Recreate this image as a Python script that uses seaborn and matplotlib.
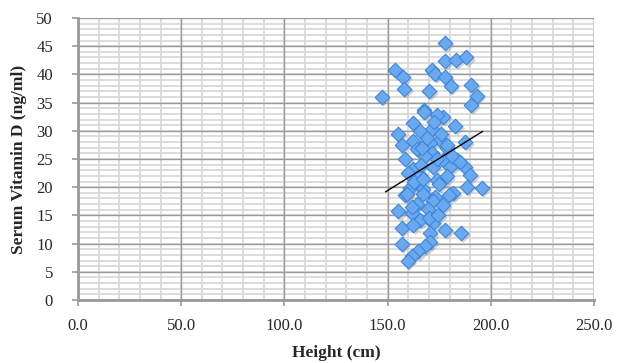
import matplotlib
matplotlib.use("Agg")
import matplotlib.pyplot as plt
import matplotlib.transforms as mtransforms
import numpy as np
import pandas as pd
import seaborn as sns

# heights (cm) and serum vitamin D (ng/ml)
height = [147.1, 153.6, 157.6, 158.0, 177.8, 177.8, 183.1, 188.0, 171.3, 173.0,
          177.8, 180.6, 170.0, 190.4, 193.2, 190.4, 167.8, 167.8, 177.0, 173.8,
          162.5, 182.7, 171.3, 155.2, 165.7, 175.4, 162.5, 187.5, 156.8, 170.5,
          164.1, 171.3, 178.6, 183.5, 177.0, 172.1, 162.5, 180.2, 187.5, 165.7,
          173.8, 178.6, 189.9, 195.6, 188.3, 160.9, 167.3, 181.8, 158.4, 173.0,
          159.2, 167.3, 179.9, 172.1, 177.0, 155.2, 161.7, 169.7, 165.7, 156.8,
          162.5, 172.1, 177.8, 185.6, 170.5, 156.8, 170.5, 168.1, 164.9, 161.7,
          159.7, 168.0, 174.0, 166.0, 176.0, 169.0, 163.0, 181.0, 185.0, 175.0,
          160.0, 166.5, 172.5, 179.0, 164.0, 170.0, 158.5, 174.5, 167.0, 162.0]
vitd = [36.0, 40.7, 39.5, 37.4, 45.6, 42.4, 42.6, 43.0, 40.8, 40.1,
        39.6, 37.9, 37.1, 38.1, 36.2, 34.6, 33.7, 33.4, 32.5, 32.8,
        31.3, 30.9, 30.3, 29.4, 30.0, 28.4, 28.2, 28.1, 27.5, 27.8,
        26.7, 26.1, 26.9, 24.8, 24.8, 23.6, 23.3, 23.6, 23.6, 22.2,
        21.3, 21.9, 22.2, 19.8, 20.0, 19.8, 19.6, 18.9, 18.6, 18.3,
        18.8, 18.8, 18.6, 17.6, 16.8, 15.7, 15.4, 16.1, 14.2, 12.7,
        13.3, 13.6, 12.4, 11.9, 11.8, 10.0, 10.3, 9.5, 8.6, 7.8,
        7.0, 25.5, 25.0, 24.0, 29.5, 28.8, 21.0, 25.5, 24.5, 20.5,
        22.5, 27.0, 31.5, 27.5, 17.0, 14.5, 25.0, 15.0, 21.5, 16.5]

# linear trendline as drawn in the reference
trend_slope = 0.228
trend_intercept = -14.8
trend_range = [149.0, 196.0]

x_ticks = [0, 50, 100, 150, 200, 250]
y_ticks = [0, 5, 10, 15, 20, 25, 30, 35, 40, 45, 50]

df = pd.DataFrame({"Height": height, "VitD": vitd})

sns.set_style("white")
plt.rcParams["font.family"] = ["Liberation Serif", "DejaVu Serif"]

fig = plt.figure(figsize=(6.26, 3.63), dpi=100)
ax = fig.add_axes([0.1246, 0.1736, 0.8243, 0.7768])

# grid: minor light, major darker
for v in np.arange(0, 251, 10):
    ax.axvline(v, color="#d9d9d9", lw=1.3, zorder=0)
for v in np.arange(0, 50.1, 1):
    ax.axhline(v, color="#d9d9d9", lw=1.3, zorder=0)
for v in x_ticks:
    ax.axvline(v, color="#9a9a9a", lw=1.0, zorder=0.5)
for v in y_ticks:
    ax.axhline(v, color="#9a9a9a", lw=1.0, zorder=0.5)

# shadow under markers
shadow = mtransforms.offset_copy(ax.transData, fig=fig, x=1.2, y=-1.5, units="points")
ax.scatter(df["Height"], df["VitD"], marker="D", s=55, color="#9a9a9a",
           alpha=0.45, linewidths=0, transform=shadow, zorder=2)
sns.scatterplot(data=df, x="Height", y="VitD", marker="D", s=55,
                color="#6aa9ef", edgecolor="#3b86dc", linewidth=0.8,
                ax=ax, zorder=3)

tx = np.array(trend_range)
ax.plot(tx, trend_slope * tx + trend_intercept, color="black", lw=1.0, zorder=4)

ax.set_xlim(0, 250)
ax.set_ylim(0, 50)
ax.set_xticks(x_ticks)
ax.set_xticklabels([f"{v:.1f}" for v in x_ticks])
ax.set_yticks(y_ticks)
ax.set_yticklabels([str(v) for v in y_ticks])
ax.tick_params(axis="both", labelsize=12, length=4, width=1.2, color="#9a9a9a",
               direction="out")
ax.tick_params(axis="x", pad=9)
ax.tick_params(axis="y", pad=14)
ax.tick_params(left=True, bottom=True)

for side in ["left", "bottom"]:
    ax.spines[side].set_color("#9a9a9a")
    ax.spines[side].set_linewidth(2)
for side in ["top", "right"]:
    ax.spines[side].set_visible(False)

ax.set_xlabel("Height (cm)", fontsize=12.5, fontweight="bold", labelpad=8)
ax.set_ylabel("Serum Vitamin D (ng/ml)", fontsize=12.5, fontweight="bold", labelpad=7)

fig.savefig("out.png", dpi=100)
